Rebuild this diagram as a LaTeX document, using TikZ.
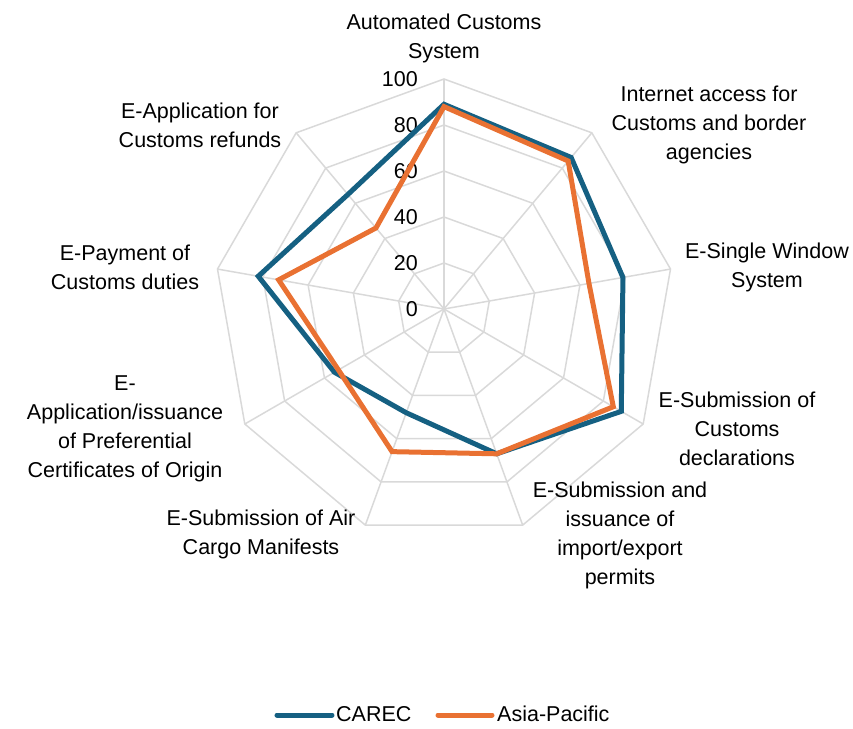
\documentclass[tikz,border=0pt]{standalone}
\usepackage{fontspec}
\setmainfont{Liberation Sans}
\definecolor{carec}{HTML}{156082}
\definecolor{asiapac}{HTML}{E97132}
\definecolor{gridgray}{HTML}{D9D9D9}
\begin{document}
\begin{tikzpicture}[x=1pt, y=1pt, grid line/.style={gridgray, line width=1.5pt},
  series/.style={line width=5pt}, lbl/.style={align=center, inner sep=0pt, font=\fontsize{21.5}{29}\selectfont},
  tick/.style={anchor=east, inner sep=0pt, font=\fontsize{21.5}{29}\selectfont}]
  \useasboundingbox (-444,309) rectangle (409,-419);
  \coordinate (o) at (0,0);
  \foreach \r in {20,40,...,100}
    \draw[grid line] (90:2.3*\r) \foreach \a in {50,10,...,-230} { -- (\a:2.3*\r) } -- cycle;
  \foreach \i in {1,...,9} {
    \coordinate (s\i) at ({130-40*\i}:230);
    \draw[grid line] (o) -- (s\i);
  }
  \foreach \r in {0,20,...,100}
    \node[tick] (t\r) at (-26,2.3*\r) {\r};
  \foreach \v [count=\i] in {89,86,79,89,67,48,55,82,65}
    \coordinate (b\i) at ({130-40*\i}:{2.3*\v});
  \foreach \v [count=\i] in {88,84,64,85,67,66,53,73,46}
    \coordinate (p\i) at ({130-40*\i}:{2.3*\v});
  \draw[series, carec] (b1) -- (b2) -- (b3) -- (b4) -- (b5) -- (b6) -- (b7) -- (b8) -- (b9) -- cycle;
  \draw[series, asiapac] (p1) -- (p2) -- (p3) -- (p4) -- (p5) -- (p6) -- (p7) -- (p8) -- (p9) -- cycle;
  \node[lbl] (ax1) at (0,271) {Automated Customs\\System};
  \node[lbl] (ax2) at (265,184) {Internet access for\\Customs and border\\agencies};
  \node[lbl] (ax3) at (323,42) {E-Single Window\\System};
  \node[lbl] (ax4) at (293,-120) {E-Submission of\\Customs\\declarations};
  \node[lbl] (ax5) at (176,-226) {E-Submission and\\issuance of\\import/export\\permits};
  \node[lbl] (ax6) at (-183,-225) {E-Submission of Air\\Cargo Manifests};
  \node[lbl] (ax7) at (-319,-120) {E-\\Application/issuance\\of Preferential\\Certificates of Origin};
  \node[lbl] (ax8) at (-319,42) {E-Payment of\\Customs duties};
  \node[lbl] (ax9) at (-244,184) {E-Application for\\Customs refunds};
  % legend
  \coordinate (lb1) at (-167,-406);
  \coordinate (lb2) at (-112,-406);
  \coordinate (lp1) at (-6,-406);
  \coordinate (lp2) at (48,-406);
  \draw[series, carec, line cap=round] (lb1) -- (lb2);
  \draw[series, asiapac, line cap=round] (lp1) -- (lp2);
  \node[lbl, anchor=west] (legcarec) at (-108,-405) {CAREC};
  \node[lbl, anchor=west] (legasiapac) at (53,-405) {Asia-Pacific};
\end{tikzpicture}
\end{document}
